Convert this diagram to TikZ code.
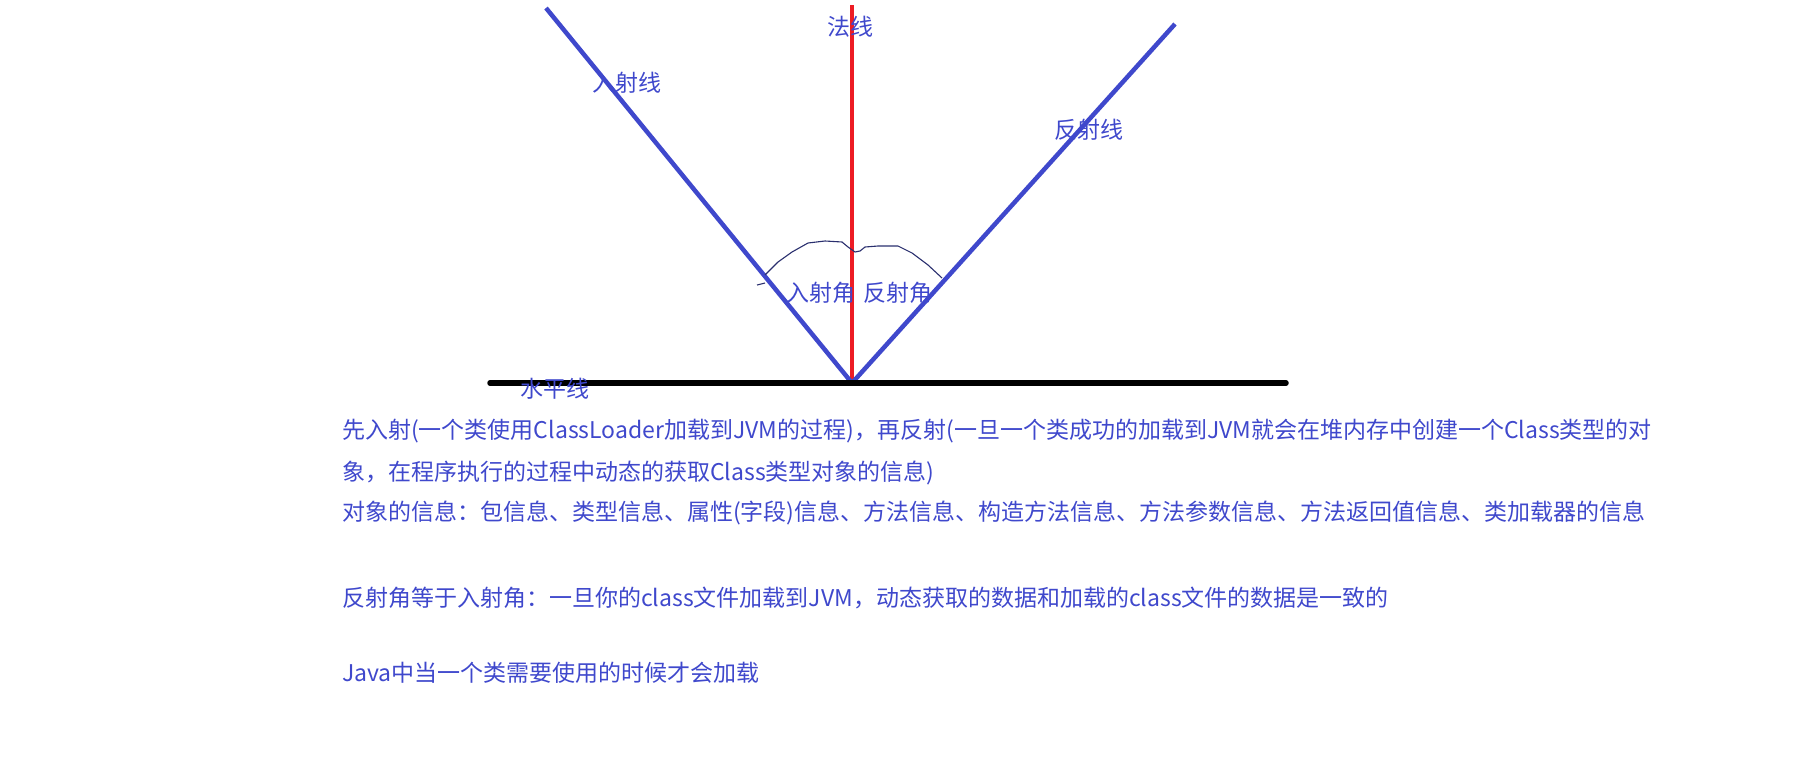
\documentclass[tikz,border=0pt]{standalone}
\usepackage{fontspec}
\newfontfamily\cjk{Noto Sans CJK SC}
\definecolor{ink}{HTML}{3F48CC}
\definecolor{rayred}{HTML}{ED1C24}
\definecolor{arcink}{HTML}{2A2F6E}
\begin{document}
\begin{tikzpicture}[x=1pt,y=-1pt,
  lbl/.style={font=\cjk\fontsize{23}{23}\selectfont, text=ink, inner sep=0pt},
  para/.style={lbl, anchor=west},
  ray/.style={draw=ink, line width=4.5pt},
  normal/.style={draw=rayred, line width=4.5pt},
  ground/.style={draw=black, line width=5.5pt, line cap=round},
  anglearc/.style={draw=arcink, line width=1.1pt}]
\useasboundingbox (0,0) rectangle (1794,764);
\coordinate (V) at (852,383);
\coordinate (Itop) at (546,8);
\coordinate (Rtop) at (1175,24);
\coordinate (Ntop) at (852,5);
\coordinate (Gl) at (490,383);
\coordinate (Gr) at (1286,383);
% lines
\draw[normal] (V) -- (Ntop);
\draw[ray] (Itop) -- (V);
\draw[ray] (V) -- (Rtop);
\draw[ground] (Gl) -- (Gr);
% angle arc
\draw[anglearc] (757,285) -- (765,283);
\draw[anglearc] (765,275) -- (778,262) -- (792,252) -- (808,243) -- (825,241) -- (842,242) -- (848,247) -- (855,252) -- (860,251) -- (865,247) -- (878,246) -- (898,246) -- (912,253) -- (928,265) -- (942,278);
% labels
\node[lbl] (lfa) at (850,27) {法线};
\node[lbl] (lin) at (627,83) {入射线};
\node[lbl] (lref) at (1089,130) {反射线};
\node[lbl] (ain) at (821,293) {入射角};
\node[lbl] (aref) at (898,293) {反射角};
\node[lbl] (lhz) at (555,389) {水平线};
% paragraphs
\node[para] (p1) at (342,431) {先入射(一个类使用ClassLoader加载到JVM的过程)，再反射(一旦一个类成功的加载到JVM就会在堆内存中创建一个Class类型的对};
\node[para] (p2) at (342,473) {象，在程序执行的过程中动态的获取Class类型对象的信息)};
\node[para] (p3) at (342,513) {对象的信息：包信息、类型信息、属性(字段)信息、方法信息、构造方法信息、方法参数信息、方法返回值信息、类加载器的信息};
\node[para] (p4) at (342,598) {反射角等于入射角：一旦你的class文件加载到JVM，动态获取的数据和加载的class文件的数据是一致的};
\node[para] (p5) at (342,673) {Java中当一个类需要使用的时候才会加载};
\end{tikzpicture}
\end{document}
